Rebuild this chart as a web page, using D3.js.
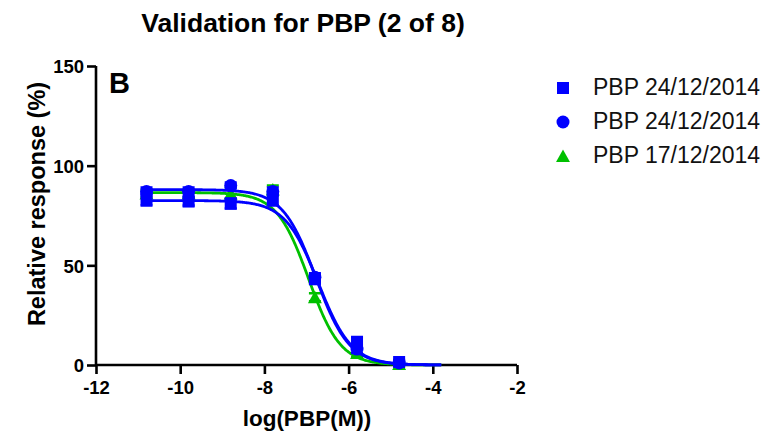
<!DOCTYPE html>
<html>
<head>
<meta charset="utf-8">
<script src="https://cdn.jsdelivr.net/npm/d3@7"></script>
<style>
  html, body { margin: 0; padding: 0; background: #fff; }
  svg { display: block; font-family: "Liberation Sans", Arial, sans-serif; }
</style>
</head>
<body>
<svg id="chart" width="777" height="436"></svg>
<script>
// ---- data ----
const logDose = [-10.8, -9.8, -8.8, -7.8, -6.8, -5.8, -4.8];
const seriesNames = ["PBP 24/12/2014", "PBP 24/12/2014", "PBP 17/12/2014"];
const seriesColors = ["#0000ff", "#0000ff", "#00c000"];
const seriesShapes = ["square", "circle", "triangle"];
const squareValues = [83, 82, 81, 83, 43, 11, 1.5];
const circleValues = [87, 87, 90, 87, 44, 8, 1];
const triangleValues = [86, 86, 86, 88, 34, 6, 0.5];
const squareErrors = [3, 2, 2.5, 3, 2, 3, 1];
const circleErrors = [2, 2, 1.5, 2, 2, 2, 1];
const triangleErrors = [2, 2, 3, 2, 2, 2, 1];
// four-parameter logistic fit parameters (top, bottom, logIC50, hill)
const fitTop = [82.5, 88, 86.5];
const fitBottom = [0, 0, 0];
const fitLogIC50 = [-6.72, -6.78, -6.95];
const fitHill = [-1.1, -1.1, -1.15];
const fitRange = [-10.8, -3.8];
const xTicks = [-12, -10, -8, -6, -4, -2];
const yTicks = [0, 50, 100, 150];

const values = [squareValues, circleValues, triangleValues];
const errors = [squareErrors, circleErrors, triangleErrors];

const svg = d3.select("#chart");
const x = d3.scaleLinear().domain([-12, -2]).range([96, 517]);
const y = d3.scaleLinear().domain([0, 150]).range([365, 66]);

// title
svg.append("text").attr("x", 303).attr("y", 32).attr("text-anchor", "middle")
  .attr("font-size", 26.5).attr("font-weight", "bold").text("Validation for PBP (2 of 8)");

// panel letter
svg.append("text").attr("x", 109).attr("y", 93)
  .attr("font-size", 29).attr("font-weight", "bold").text("B");

// axes
const fmt = d => String(d);
const xAxis = svg.append("g").attr("transform", "translate(0,365)")
  .call(d3.axisBottom(x).tickValues(xTicks).tickSize(9).tickPadding(6).tickFormat(fmt));
const yAxis = svg.append("g").attr("transform", "translate(96,0)")
  .call(d3.axisLeft(y).tickValues(yTicks).tickSize(9).tickPadding(3).tickFormat(fmt));
[xAxis, yAxis].forEach(g => {
  g.select(".domain").attr("stroke", "#000").attr("stroke-width", 2.6);
  g.selectAll(".tick line").attr("stroke", "#000").attr("stroke-width", 2.6);
  g.selectAll(".tick text").attr("fill", "#000").attr("font-size", 18.5)
    .attr("font-weight", "bold").attr("font-family", "'Liberation Sans', Arial, sans-serif");
});
xAxis.select(".domain").attr("d", `M${x(-12)},0H${x(-2)}`);
yAxis.select(".domain").attr("d", `M0,${y(0)}V${y(150)}`);
xAxis.selectAll(".tick text").attr("dy", "0.71em").attr("y", 16);
yAxis.selectAll(".tick text").attr("dy", "0.36em");

// axis titles
svg.append("text").attr("x", 307).attr("y", 426).attr("text-anchor", "middle")
  .attr("font-size", 22.5).attr("font-weight", "bold").text("log(PBP(M))");
svg.append("text").attr("transform", "translate(45,204) rotate(-90)").attr("text-anchor", "middle")
  .attr("font-size", 23.5).attr("font-weight", "bold").text("Relative response (%)");

// marker drawing
function marker(g, shape, cx, cy, color, s) {
  if (shape === "square") {
    g.append("rect").attr("x", cx - s / 2).attr("y", cy - s / 2).attr("width", s).attr("height", s).attr("fill", color);
  } else if (shape === "circle") {
    g.append("circle").attr("cx", cx).attr("cy", cy).attr("r", s / 2 + 0.5).attr("fill", color);
  } else {
    const h = s * 1.0;
    g.append("path").attr("d", `M${cx},${cy - h * 0.55}L${cx + s * 0.58},${cy + h * 0.5}L${cx - s * 0.58},${cy + h * 0.5}Z`).attr("fill", color);
  }
}

const plot = svg.append("g");
const drawOrder = [2, 0, 1];
drawOrder.forEach(i => {
  const g = plot.append("g");
  const color = seriesColors[i];
  // fitted curve
  const xs = d3.range(fitRange[0], fitRange[1] + 1e-9, 0.02);
  const f = v => fitBottom[i] + (fitTop[i] - fitBottom[i]) / (1 + Math.pow(10, (fitLogIC50[i] - v) * fitHill[i]));
  g.append("path").datum(xs)
    .attr("d", d3.line().x(v => x(v)).y(v => y(f(v))))
    .attr("fill", "none").attr("stroke", color).attr("stroke-width", 2.8);
  // error bars
  logDose.forEach((d, j) => {
    const v = values[i][j], e = errors[i][j];
    const cx = x(d);
    g.append("path")
      .attr("d", `M${cx},${y(v + e)}V${y(v - e)}M${cx - 6},${y(v + e)}H${cx + 6}M${cx - 6},${y(v - e)}H${cx + 6}`)
      .attr("stroke", color).attr("stroke-width", 2.5).attr("fill", "none");
  });
  // markers
  logDose.forEach((d, j) => {
    marker(g, seriesShapes[i], x(d), y(values[i][j]), color, 12);
  });
});

// legend
const legendY = [88, 122, 156];
const legendBase = [95, 129, 163];
seriesNames.forEach((name, i) => {
  marker(svg, seriesShapes[i], 563, legendY[i], seriesColors[i], 12);
  svg.append("text").attr("x", 593).attr("y", legendBase[i]).attr("font-size", 23)
    .attr("fill", "#111").text(name);
});
</script>
</body>
</html>
